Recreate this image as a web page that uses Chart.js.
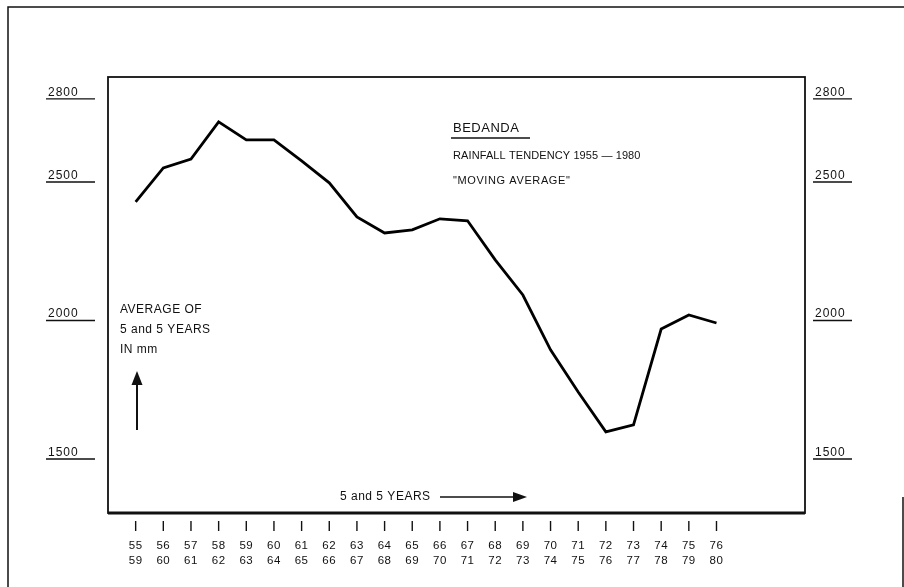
<!DOCTYPE html>
<html>
<head>
<meta charset="utf-8">
<script src="https://cdn.jsdelivr.net/npm/chart.js@4.4.1/dist/chart.umd.min.js"></script>
<style>
  html, body { margin: 0; padding: 0; background: #fff; }
  #wrap { width: 904px; height: 587px; }
</style>
</head>
<body>
<div id="wrap"><canvas id="rainChart" width="904" height="587"></canvas></div>
<script>
// 5-year moving average, Bedanda rainfall (mm)
const startYears = [55, 56, 57, 58, 59, 60, 61, 62, 63, 64, 65, 66, 67, 68, 69, 70, 71, 72, 73, 74, 75, 76];
const endYears = [59, 60, 61, 62, 63, 64, 65, 66, 67, 68, 69, 70, 71, 72, 73, 74, 75, 76, 77, 78, 79, 80];
const rainfall = [2428, 2551, 2583, 2717, 2652, 2652, 2576, 2497, 2374, 2316, 2327, 2367, 2360, 2219, 2092, 1894, 1742, 1598, 1623, 1969, 2020, 1991];
const yTicks = [1500, 2000, 2500, 2800];

const titleLines = ['BEDANDA', 'RAINFALL TENDENCY 1955 \u2014 1980', '"MOVING AVERAGE"'];
const yNoteLines = ['AVERAGE OF', '5 and 5 YEARS', 'IN mm'];
const xNote = '5 and 5 YEARS';

const FONT = '"Liberation Sans", Arial, sans-serif';

// draws the paper frame, box, axis labels and notes
const paperPlugin = {
    id: 'paper',
    afterDraw(chart) {
        const ctx = chart.ctx;
        const area = chart.chartArea;
        const xs = chart.scales.x;
        const ys = chart.scales.y;
        ctx.save();
        ctx.strokeStyle = '#111';
        ctx.fillStyle = '#111';

        // outer frame
        ctx.lineWidth = 1.5;
        ctx.beginPath();
        ctx.moveTo(8, 587);
        ctx.lineTo(8, 7);
        ctx.lineTo(904, 7);
        ctx.moveTo(903, 497);
        ctx.lineTo(903, 587);
        ctx.stroke();

        // plot box
        ctx.lineWidth = 1.8;
        ctx.strokeRect(area.left, area.top, area.right - area.left, area.bottom - area.top);
        ctx.lineWidth = 3;
        ctx.beginPath();
        ctx.moveTo(area.left, area.bottom);
        ctx.lineTo(area.right, area.bottom);
        ctx.stroke();

        // y labels, both sides, underlined
        ctx.font = '12px ' + FONT;
        ctx.letterSpacing = '1px';
        ctx.textBaseline = 'alphabetic';
        ctx.textAlign = 'left';
        ctx.lineWidth = 1.3;
        yTicks.forEach(v => {
            const py = ys.getPixelForValue(v);
            ctx.fillText(String(v), 48, py - 3);
            ctx.fillText(String(v), 815, py - 3);
            ctx.beginPath();
            ctx.moveTo(46, py); ctx.lineTo(95, py);
            ctx.moveTo(813, py); ctx.lineTo(852, py);
            ctx.stroke();
        });

        // x ticks and two-row labels
        ctx.font = '11.5px ' + FONT;
        ctx.letterSpacing = '0.5px';
        ctx.textAlign = 'center';
        ctx.textBaseline = 'middle';
        startYears.forEach((yr, i) => {
            const px = xs.getPixelForValue(yr);
            ctx.lineWidth = 1.4;
            ctx.beginPath();
            ctx.moveTo(px, 521); ctx.lineTo(px, 531);
            ctx.stroke();
            ctx.fillText(String(yr), px, 546);
            ctx.fillText(String(endYears[i]), px, 561);
        });

        // title block
        ctx.textAlign = 'left';
        ctx.textBaseline = 'middle';
        ctx.font = '13px ' + FONT;
        ctx.letterSpacing = '0.5px';
        ctx.fillText(titleLines[0], 453, 128);
        ctx.lineWidth = 1.6;
        ctx.beginPath();
        ctx.moveTo(451, 138); ctx.lineTo(530, 138);
        ctx.stroke();
        ctx.font = '11px ' + FONT;
        ctx.letterSpacing = '0.1px';
        ctx.fillText(titleLines[1], 453, 156);
        ctx.letterSpacing = '0.6px';
        ctx.fillText(titleLines[2], 453, 181);

        // y note + up arrow
        ctx.font = '12px ' + FONT;
        ctx.letterSpacing = '0.5px';
        ctx.fillText(yNoteLines[0], 120, 310);
        ctx.fillText(yNoteLines[1], 120, 330);
        ctx.fillText(yNoteLines[2], 120, 350);
        ctx.lineWidth = 2;
        ctx.beginPath();
        ctx.moveTo(137, 430); ctx.lineTo(137, 382);
        ctx.stroke();
        ctx.beginPath();
        ctx.moveTo(137, 371); ctx.lineTo(131.5, 385); ctx.lineTo(142.5, 385);
        ctx.closePath(); ctx.fill();

        // x note + right arrow
        ctx.fillText(xNote, 340, 497);
        ctx.lineWidth = 1.6;
        ctx.beginPath();
        ctx.moveTo(440, 497); ctx.lineTo(515, 497);
        ctx.stroke();
        ctx.beginPath();
        ctx.moveTo(527, 497); ctx.lineTo(513, 492); ctx.lineTo(513, 502);
        ctx.closePath(); ctx.fill();

        ctx.restore();
    }
};

const ctx1 = document.getElementById('rainChart').getContext('2d');

const config = {
    type: 'line',
    data: {
        datasets: [{
            data: startYears.map((yr, i) => ({ x: yr, y: rainfall[i] })),
            borderColor: '#000',
            borderWidth: 2.8,
            pointRadius: 0,
            tension: 0,
            fill: false
        }]
    },
    options: {
        responsive: false,
        animation: false,
        devicePixelRatio: 1,
        layout: {
            padding: { left: 108, right: 99, top: 77, bottom: 74 }
        },
        plugins: {
            legend: { display: false },
            tooltip: { enabled: false }
        },
        scales: {
            x: { type: 'linear', min: 54, max: 79.2, display: false },
            y: { type: 'linear', min: 1305, max: 2879, display: false }
        }
    },
    plugins: [paperPlugin]
};

const rainChart = new Chart(ctx1, config);
</script>
</body>
</html>
